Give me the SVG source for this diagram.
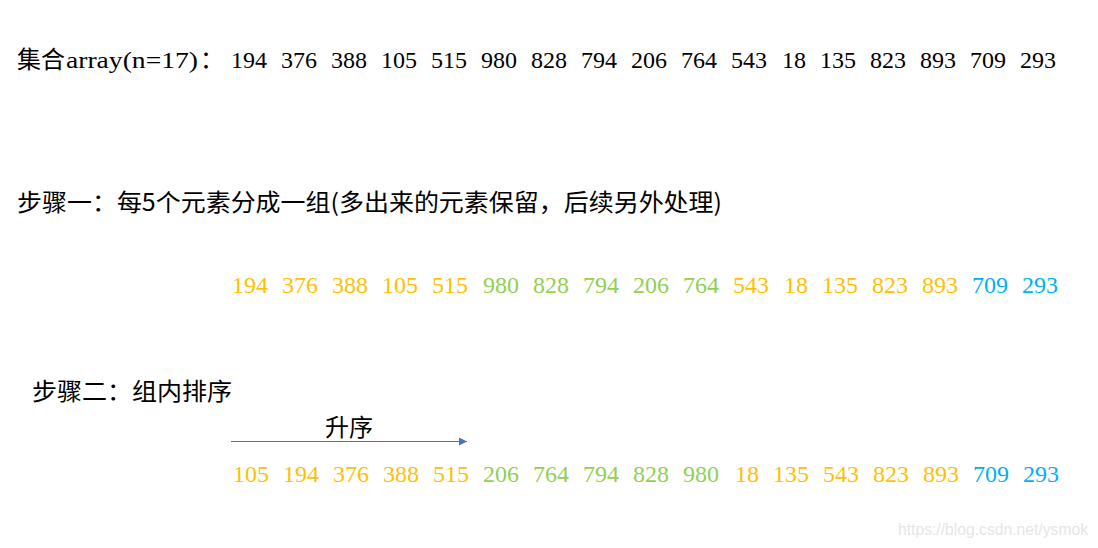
<svg xmlns="http://www.w3.org/2000/svg" width="1098" height="548" viewBox="0 0 1098 548">
<defs>
<style>
.num{font-family:"Liberation Serif","Times New Roman",serif;font-size:24px}
.blk{fill:#000}
.o{fill:#FFC000}
.g{fill:#92D050}
.b{fill:#00B0F0}
.cjk{font-family:"Noto Sans CJK SC","Liberation Sans",sans-serif;font-size:24px;fill:#000}
.ser{font-family:"Liberation Serif","Noto Sans CJK SC",serif;font-size:24px;fill:#000}
</style>
<marker id="arr" viewBox="0 0 10 10" refX="10" refY="5" markerWidth="8" markerHeight="8" markerUnits="userSpaceOnUse" orient="auto">
<path d="M0,0 L10,5 L0,10 z" fill="#4472C4"/>
</marker>
</defs>
<rect width="1098" height="548" fill="#fff"/>

<g id="line-array">
<text class="cjk" x="17" y="68" textLength="48" lengthAdjust="spacingAndGlyphs">集合</text>
<text class="ser" x="66" y="68" textLength="132" lengthAdjust="spacingAndGlyphs">array(n=17)</text>
<text class="cjk" x="200" y="68">：</text>
<g class="num blk">
<text x="231" y="68">194</text><text x="281" y="68">376</text><text x="331" y="68">388</text><text x="381" y="68">105</text><text x="431" y="68">515</text><text x="481" y="68">980</text><text x="531" y="68">828</text><text x="581" y="68">794</text><text x="631" y="68">206</text><text x="681" y="68">764</text><text x="731" y="68">543</text><text x="782" y="68">18</text><text x="820" y="68">135</text><text x="870" y="68">823</text><text x="920" y="68">893</text><text x="970" y="68">709</text><text x="1020" y="68">293</text>
</g>
</g>

<g id="step1">
<text class="cjk" x="17" y="211" textLength="705" lengthAdjust="spacingAndGlyphs">步骤一：每5个元素分成一组(多出来的元素保留，后续另外处理)</text>
</g>

<g id="row-groups" class="num">
<text class="o" x="232" y="293">194</text><text class="o" x="282" y="293">376</text><text class="o" x="332" y="293">388</text><text class="o" x="382" y="293">105</text><text class="o" x="432" y="293">515</text>
<text class="g" x="483" y="293">980</text><text class="g" x="533" y="293">828</text><text class="g" x="583" y="293">794</text><text class="g" x="633" y="293">206</text><text class="g" x="683" y="293">764</text>
<text class="o" x="733" y="293">543</text><text class="o" x="784" y="293">18</text><text class="o" x="822" y="293">135</text><text class="o" x="872" y="293">823</text><text class="o" x="922" y="293">893</text>
<text class="b" x="972" y="293">709</text><text class="b" x="1022" y="293">293</text>
</g>

<g id="step2">
<text class="cjk" x="32" y="400" textLength="200" lengthAdjust="spacingAndGlyphs">步骤二：组内排序</text>
</g>

<g id="label-asc">
<text class="cjk" x="325" y="436">升序</text>
</g>

<g id="connectors">
<line x1="231" y1="441.5" x2="467" y2="441.5" stroke="#4472C4" stroke-width="1.2" marker-end="url(#arr)"/>
</g>

<g id="row-sorted" class="num">
<text class="o" x="233" y="482">105</text><text class="o" x="283" y="482">194</text><text class="o" x="333" y="482">376</text><text class="o" x="383" y="482">388</text><text class="o" x="433" y="482">515</text>
<text class="g" x="483" y="482">206</text><text class="g" x="533" y="482">764</text><text class="g" x="583" y="482">794</text><text class="g" x="633" y="482">828</text><text class="g" x="683" y="482">980</text>
<text class="o" x="735" y="482">18</text><text class="o" x="773" y="482">135</text><text class="o" x="823" y="482">543</text><text class="o" x="873" y="482">823</text><text class="o" x="923" y="482">893</text>
<text class="b" x="973" y="482">709</text><text class="b" x="1023" y="482">293</text>
</g>

<g id="watermark">
<text x="898" y="535" font-family="Liberation Sans, Arial, sans-serif" font-size="16" fill="#E6E6E6" textLength="190" lengthAdjust="spacingAndGlyphs">https://blog.csdn.net/ysmok</text>
</g>
</svg>
